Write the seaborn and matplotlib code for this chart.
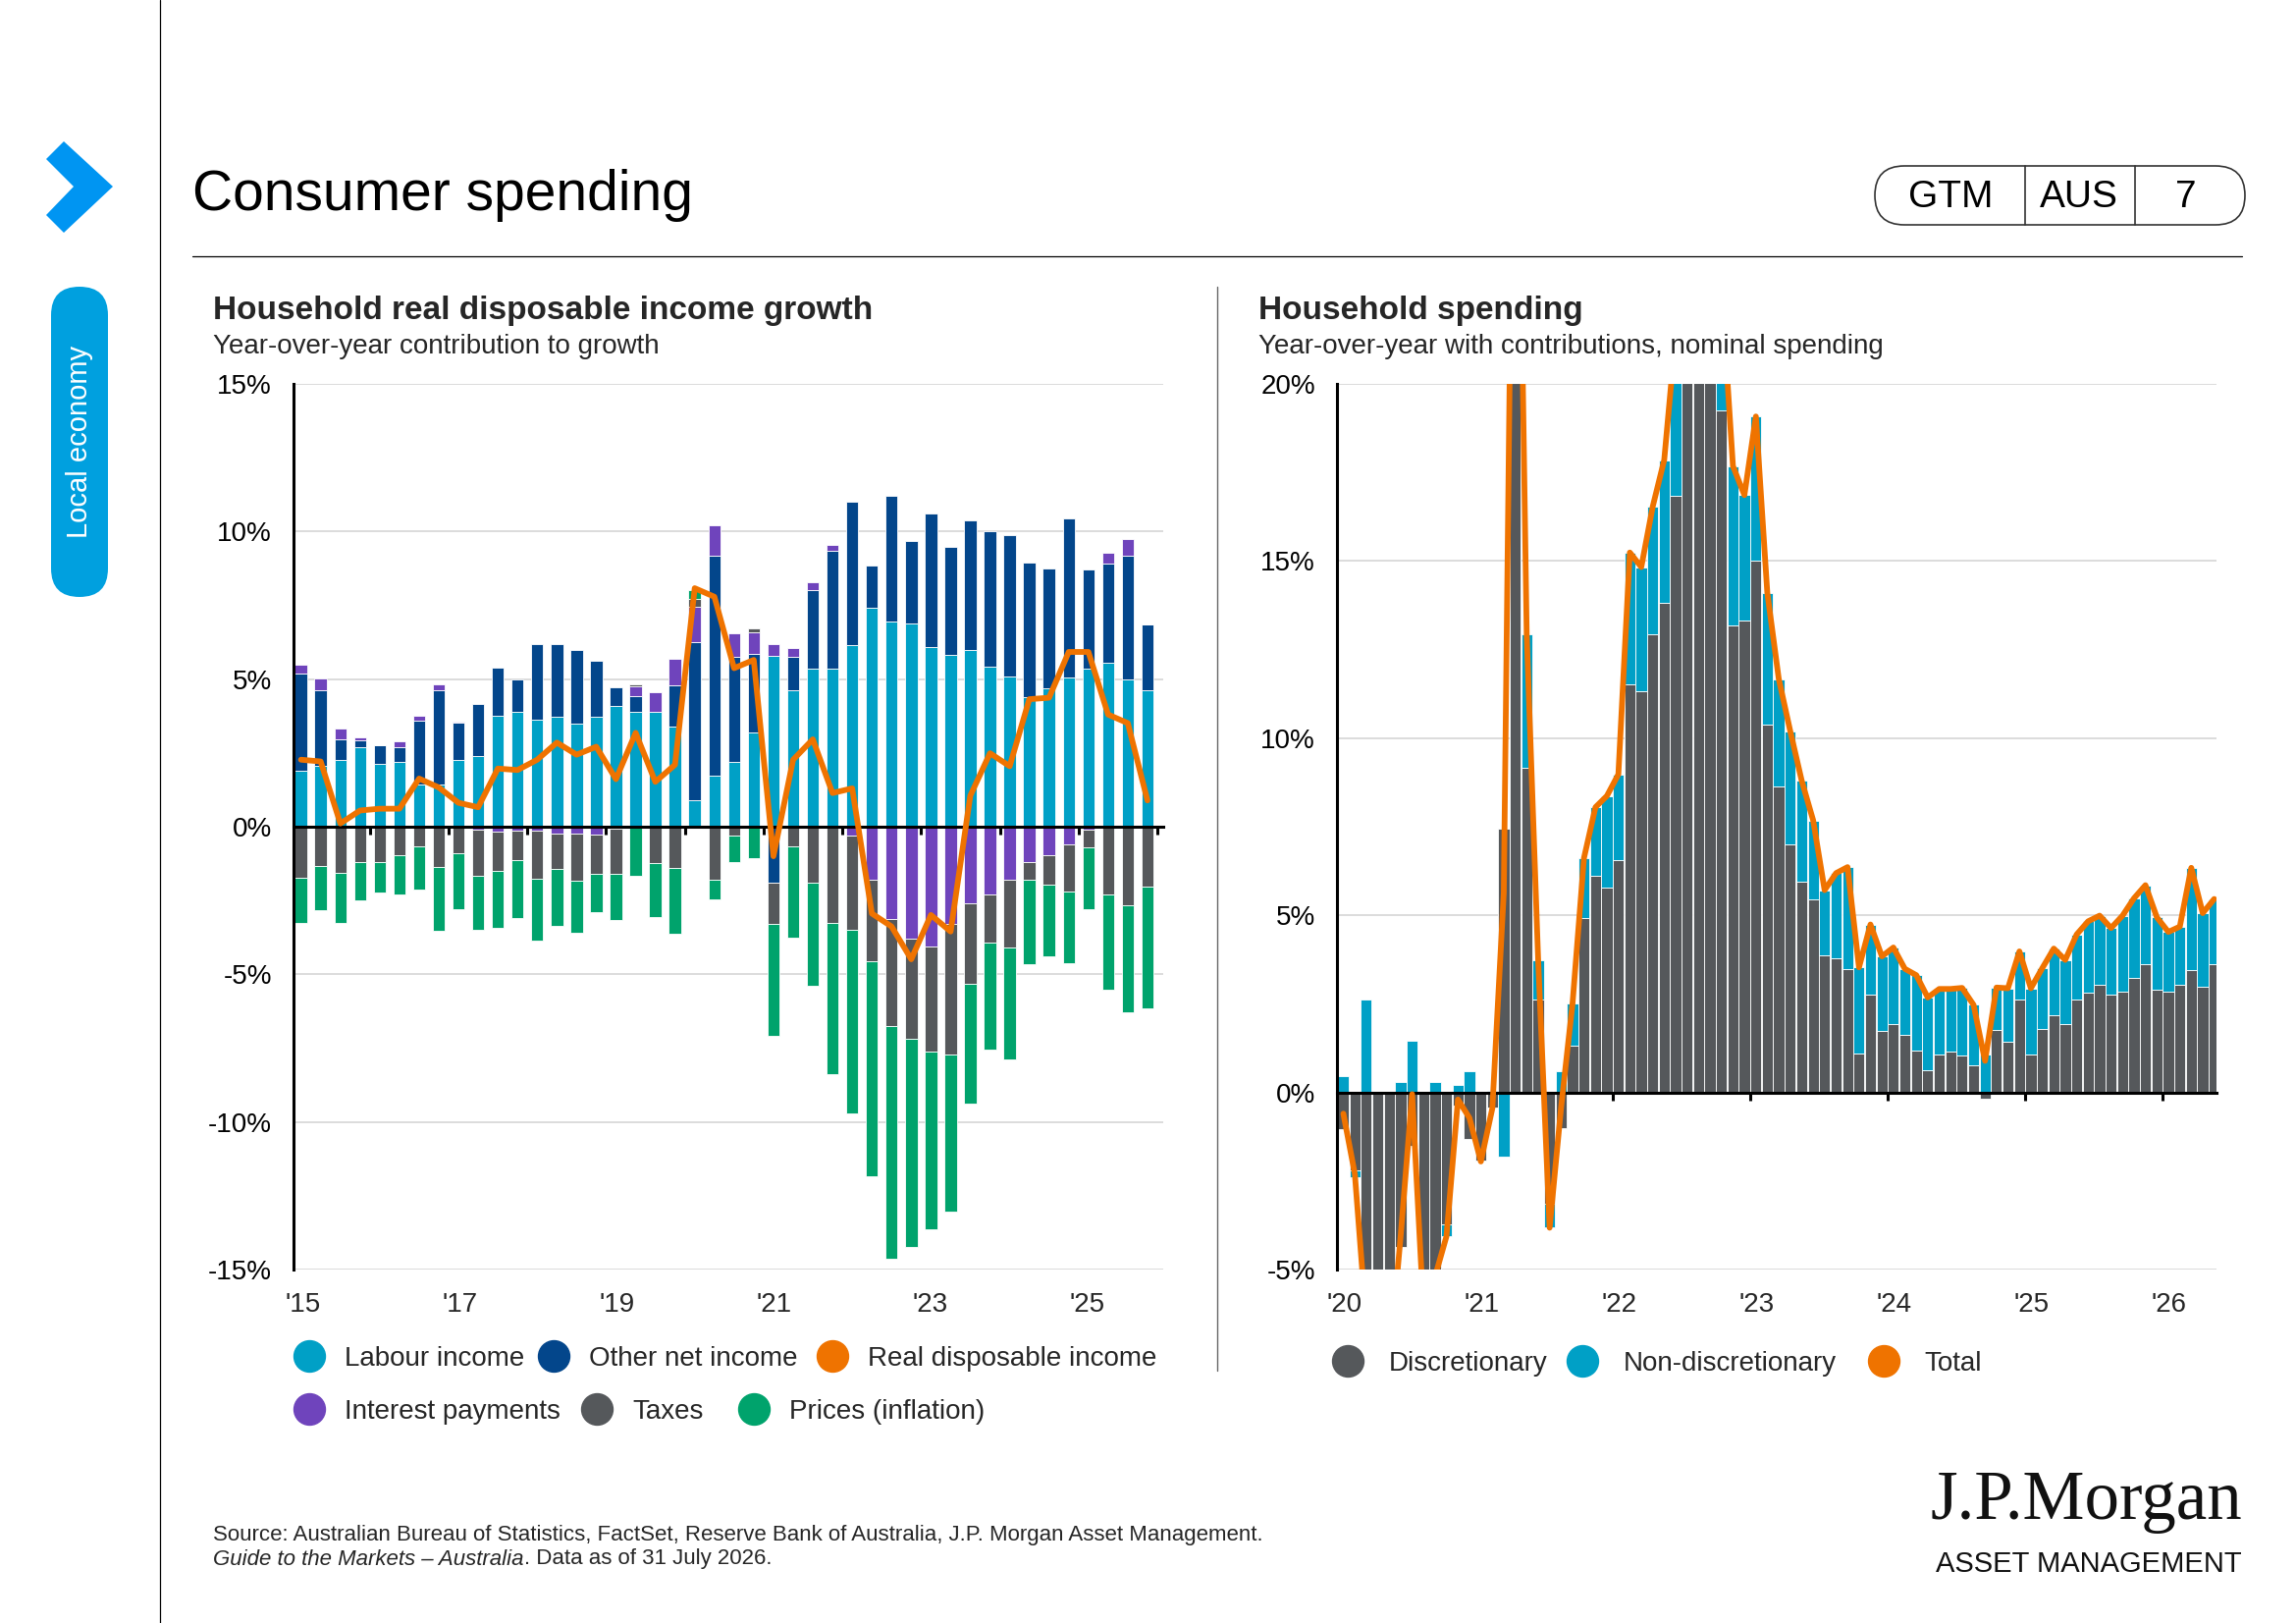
import numpy as np
import matplotlib.pyplot as plt
import matplotlib.transforms as mtransforms
import seaborn as sns
from matplotlib.lines import Line2D
from matplotlib.patches import FancyBboxPatch, Polygon

sns.set_theme(style="white")
plt.rcParams['font.family'] = ['Liberation Sans', 'DejaVu Sans']

# ---- left chart: household real disposable income (quarterly, % contribution)
year_labels_left = ["'15", "'17", "'19", "'21", "'23", "'25"]
labour = [1.88, 2.05, 2.25, 2.71, 2.13, 2.21, 1.44, 1.42, 2.25, 2.38, 3.77, 3.90,
          3.63, 3.71, 3.49, 3.71, 4.10, 3.90, 3.90, 3.38, 0.89, 1.74, 2.18, 3.18,
          5.79, 4.62, 5.37, 5.37, 6.15, 7.42, 6.95, 6.87, 6.09, 5.81, 6.00, 5.43,
          5.09, 4.40, 4.68, 5.07, 5.37, 5.54, 5.00, 4.63]
other_net = [3.32, 2.58, 0.72, 0.22, 0.64, 0.50, 2.16, 3.21, 1.26, 1.77, 1.62, 1.08,
             2.54, 2.48, 2.50, 1.92, 0.63, 0.53, 0.00, 1.40, 5.37, 7.44, 3.56, 2.66,
             -1.88, 1.14, 2.66, 3.99, 4.85, 1.42, 4.25, 2.80, 4.51, 3.66, 4.37, 4.57,
             4.78, 4.54, 4.07, 5.39, 3.35, 3.38, 4.19, 2.21]
interest = [0.30, 0.39, 0.37, 0.10, 0.00, 0.17, 0.17, 0.19, 0.06, -0.10, -0.17, -0.13,
            -0.13, -0.22, -0.23, -0.27, -0.08, 0.31, 0.66, 0.92, 1.18, 1.03, 0.82, 0.75,
            0.38, 0.28, 0.25, 0.19, -0.31, -1.80, -3.14, -3.80, -4.07, -3.30, -2.61, -2.31,
            -1.81, -1.20, -0.96, -0.60, -0.10, 0.35, 0.56, 0.00]
taxes = [-1.72, -1.33, -1.57, -1.20, -1.20, -0.96, -0.67, -1.36, -0.91, -1.56, -1.33, -1.00,
         -1.63, -1.22, -1.60, -1.34, -1.52, 0.08, -1.24, -1.41, 0.28, -1.81, -0.30, 0.13,
         -1.41, -0.67, -1.90, -3.27, -3.18, -2.77, -3.62, -3.38, -3.55, -4.43, -2.72, -1.63,
         -2.29, -0.61, -1.01, -1.60, -0.60, -2.29, -2.66, -2.03]
prices = [-1.53, -1.50, -1.68, -1.30, -1.03, -1.33, -1.46, -2.17, -1.88, -1.84, -1.93, -1.95,
          -2.09, -1.92, -1.75, -1.28, -1.56, -1.66, -1.82, -2.22, 0.28, -0.64, -0.90, -1.05,
          -3.81, -3.09, -3.48, -5.10, -6.21, -7.26, -7.86, -7.04, -6.01, -5.30, -4.04, -3.60,
          -3.79, -2.85, -2.42, -2.42, -2.09, -3.22, -3.62, -4.12]
real_disp_income = [2.27, 2.21, 0.11, 0.55, 0.61, 0.61, 1.63, 1.33, 0.81, 0.66, 1.97, 1.92,
                    2.27, 2.85, 2.44, 2.71, 1.61, 3.18, 1.52, 2.10, 8.08, 7.79, 5.37, 5.65,
                    -1.00, 2.27, 2.96, 1.14, 1.30, -2.94, -3.38, -4.49, -2.99, -3.55, 1.05, 2.49,
                    2.05, 4.32, 4.37, 5.92, 5.92, 3.80, 3.51, 0.89]

# ---- right chart: household spending (monthly, % y/y)
year_labels_right = ["'20", "'21", "'22", "'23", "'24", "'25", "'26"]
discretionary = [-1.03, -2.20, -9.10, -9.00, -7.70, -4.35, -1.50, -6.24, -5.50, -3.73, -0.38, -1.31,
                 -1.92, -0.44, 7.44, 30.50, 9.16, 2.63, -3.15, -1.02, 1.31, 4.93, 6.11, 5.78,
                 6.57, 11.53, 11.33, 12.94, 13.81, 16.83, 20.50, 21.50, 21.00, 19.26, 13.19, 13.32,
                 15.00, 10.39, 8.63, 7.01, 5.94, 5.45, 3.86, 3.79, 3.47, 1.11, 2.75, 1.73,
                 1.94, 1.62, 1.18, 0.64, 1.06, 1.15, 1.04, 0.76, -0.17, 1.75, 1.42, 2.63,
                 1.06, 1.78, 2.17, 1.94, 2.63, 2.81, 3.03, 2.75, 2.84, 3.23, 3.61, 2.89,
                 2.84, 3.03, 3.46, 2.98, 3.61]
non_discretionary = [0.46, -0.20, 2.63, 0.00, 0.00, 0.30, 1.45, 0.00, 0.30, -0.33, 0.20, 0.59,
                     0.00, 0.05, -1.80, 3.50, 3.76, 1.10, -0.67, 0.59, 1.20, 1.69, 1.94, 2.59,
                     2.41, 3.71, 3.50, 3.60, 4.04, 4.57, 4.00, 4.00, 4.00, 3.45, 4.49, 3.54,
                     4.08, 3.71, 3.04, 3.19, 2.86, 2.23, 1.85, 2.40, 2.89, 2.42, 1.99, 2.11,
                     2.15, 1.87, 2.13, 2.04, 1.86, 1.77, 1.91, 1.71, 1.06, 1.21, 1.52, 1.35,
                     1.88, 1.73, 1.89, 1.80, 1.83, 2.02, 1.96, 1.89, 2.15, 2.25, 2.24, 2.05,
                     1.69, 1.65, 2.88, 2.08, 1.85]
total_spending = [-0.60, -2.30, -6.50, -9.00, -7.70, -4.05, -0.05, -6.20, -5.20, -4.06, -0.20, -0.72,
                  -1.95, -0.45, 5.64, 34.00, 12.92, 3.73, -3.82, -0.43, 2.51, 6.62, 8.05, 8.37,
                  8.98, 15.24, 14.83, 16.54, 17.85, 21.40, 24.50, 25.50, 25.00, 22.70, 17.68, 16.86,
                  19.08, 14.10, 11.67, 10.20, 8.80, 7.68, 5.71, 6.19, 6.36, 3.53, 4.74, 3.84,
                  4.09, 3.49, 3.31, 2.68, 2.92, 2.92, 2.95, 2.47, 0.89, 2.96, 2.94, 3.98,
                  2.94, 3.51, 4.06, 3.74, 4.46, 4.83, 4.99, 4.64, 4.99, 5.48, 5.85, 4.94,
                  4.53, 4.68, 6.34, 5.06, 5.46]

TEAL = "#00a0c6"
NAVY = "#03468b"
PURPLE = "#6f44bc"
GREY = "#55585b"
GREEN = "#00a36c"
ORANGE = "#ef7300"
FS = 20


def stacked_bars(ax, series, colors, width):
    n = len(series[0])
    x = np.arange(n)
    pos_base = np.zeros(n)
    neg_base = np.zeros(n)
    for vals, c in zip(series, colors):
        v = np.array(vals, dtype=float)
        bottom = np.where(v >= 0, pos_base, neg_base)
        ax.bar(x, v, bottom=bottom, width=width, color=c, edgecolor="white",
               linewidth=0.6, zorder=2)
        pos_base = pos_base + np.where(v > 0, v, 0)
        neg_base = neg_base + np.where(v < 0, v, 0)


def style_axes(ax, ylim, yticks, xlim, tick_pos, lab_pos, labels, pad):
    ax.set_xlim(*xlim)
    ax.set_ylim(*ylim)
    ax.set_yticks(yticks)
    ax.set_yticklabels([f"{t}%" for t in yticks], fontsize=FS)
    ax.tick_params(axis="y", length=0, pad=pad, colors="black")
    for s in ["top", "right"]:
        ax.spines[s].set_visible(False)
    ax.spines["left"].set_linewidth(2.2)
    ax.spines["left"].set_color("black")
    ax.spines["bottom"].set_position(("data", 0))
    ax.spines["bottom"].set_linewidth(2.2)
    ax.spines["bottom"].set_color("black")
    ax.set_xticks(tick_pos)
    ax.tick_params(axis="x", direction="out", length=6, width=2.2, color="black",
                   labelbottom=False, bottom=True)
    ax.grid(axis="y", color="#d9d9d9", linewidth=1.3)
    ax.grid(axis="x", visible=False)
    ax.set_axisbelow(True)
    trans = mtransforms.blended_transform_factory(ax.transData, ax.transAxes)
    for p, l in zip(lab_pos, labels):
        ax.text(p, -0.0395, l, transform=trans, ha="center", va="center", fontsize=FS)


fig = plt.figure(figsize=(23.39, 16.53), dpi=100)

# left chart
axl = fig.add_axes([299 / 2339, 1 - 1293 / 1653, (1185 - 299) / 2339, 902 / 1653])
stacked_bars(axl, [labour, other_net, interest, taxes, prices],
             [TEAL, NAVY, PURPLE, GREY, GREEN], 0.62)
xl = np.arange(len(real_disp_income))
sns.lineplot(x=xl, y=real_disp_income, ax=axl, color=ORANGE, linewidth=4.2, zorder=5)
axl.lines[-1].set_solid_joinstyle("round")
style_axes(axl, (-15, 15), [15, 10, 5, 0, -5, -10, -15], (-0.38, 43.8),
           [3.5 + 4 * k for k in range(11)], [0.1 + 7.97 * k for k in range(6)],
           year_labels_left, 16)

# right chart
axr = fig.add_axes([1362 / 2339, 1 - 1293 / 1653, (2258 - 1362) / 2339, 902 / 1653])
stacked_bars(axr, [discretionary, non_discretionary], [GREY, TEAL], 0.96)
xr = np.arange(len(total_spending))
sns.lineplot(x=xr, y=total_spending, ax=axr, color=ORANGE, linewidth=4.2, zorder=5)
axr.lines[-1].set_solid_joinstyle("round")
style_axes(axr, (-5, 20), [20, 15, 10, 5, 0, -5], (-0.56, 76.2),
           [11.5 + 12 * k for k in range(6)], [0.05 + 12 * k for k in range(7)],
           year_labels_right, 16)


def dot(c):
    return Line2D([], [], marker="o", linestyle="", markersize=23,
                  markerfacecolor=c, markeredgecolor=c)


def legend_entry(x_dot, y, color, label, textpad):
    # one legend item, placed by the centre of its dot (pixel coords)
    fig.legend([dot(color)], [label], loc="center left", frameon=False, fontsize=FS,
               handlelength=1.0, handletextpad=textpad, borderpad=0, borderaxespad=0,
               bbox_to_anchor=((x_dot - 13.9) / 2339, 1 - y / 1653),
               bbox_transform=fig.transFigure)


for xd, yd, c, lab in [(315, 1384, TEAL, "Labour income"),
                       (564, 1384, NAVY, "Other net income"),
                       (848, 1384, ORANGE, "Real disposable income"),
                       (315, 1438, PURPLE, "Interest payments"),
                       (608, 1438, GREY, "Taxes"),
                       (768, 1438, GREEN, "Prices (inflation)")]:
    legend_entry(xd, yd, c, lab, 0.8)

for xd, c, lab in [(1373, GREY, "Discretionary"),
                   (1612, TEAL, "Non-discretionary"),
                   (1919, ORANGE, "Total")]:
    legend_entry(xd, 1389, c, lab, 1.0)

# page decorations, drawn in pixel coordinates
ov = fig.add_axes([0, 0, 1, 1], zorder=-1)
ov.set_xlim(0, 2339)
ov.set_ylim(1653, 0)
ov.axis("off")

ov.plot([163, 163], [0, 1653], color="black", linewidth=0.9)
ov.add_patch(Polygon([(47, 162), (65, 144), (115, 190), (65, 237), (47, 219), (75, 190)],
                     closed=True, facecolor="#0095f2", edgecolor="none"))
ov.add_patch(FancyBboxPatch((52, 292), 58, 316, boxstyle="round,pad=0,rounding_size=29",
                            facecolor="#00a0df", edgecolor="none"))
ov.text(81, 450, "Local economy", rotation=90, color="white", fontsize=21,
        ha="center", va="center")

ov.text(196, 199, "Consumer spending", fontsize=41, ha="left", va="center", color="black")
ov.plot([196, 2284], [261, 261], color="black", linewidth=0.9)

ov.add_patch(FancyBboxPatch((1910, 169), 377, 60, boxstyle="round,pad=0,rounding_size=30",
                            facecolor="none", edgecolor="#333333", linewidth=1.2))
ov.plot([2063, 2063], [169, 229], color="#333333", linewidth=1.2)
ov.plot([2175, 2175], [169, 229], color="#333333", linewidth=1.2)
for tx, t in [(1987, "GTM"), (2118, "AUS"), (2227, "7")]:
    ov.text(tx, 201, t, fontsize=28, ha="center", va="center", color="black")

ov.plot([1240, 1240], [292, 1396], color="#666666", linewidth=1.0)

ov.text(217, 317, "Household real disposable income growth", fontsize=24,
        fontweight="bold", ha="left", va="center")
ov.text(217, 353, "Year-over-year contribution to growth", fontsize=FS,
        ha="left", va="center")
ov.text(1282, 317, "Household spending", fontsize=24, fontweight="bold",
        ha="left", va="center")
ov.text(1282, 353, "Year-over-year with contributions, nominal spending", fontsize=FS,
        ha="left", va="center")

ov.text(217, 1564, "Source: Australian Bureau of Statistics, FactSet, Reserve Bank of Australia, "
        "J.P. Morgan Asset Management.", fontsize=16, ha="left", va="center")
t_it = ov.text(217, 1588, "Guide to the Markets \u2013 Australia", fontsize=16,
               style="italic", ha="left", va="center")
renderer = fig.canvas.get_renderer()
x_end = t_it.get_window_extent(renderer=renderer).x1
ov.text(x_end, 1588, ". Data as of 31 July 2026.", fontsize=16, ha="left", va="center")

ov.text(2284, 1529, "J.P.Morgan", fontsize=51, family=["Liberation Serif", "DejaVu Serif"],
        ha="right", va="center", color="#111111")
ov.text(2284, 1593, "ASSET MANAGEMENT", fontsize=21, ha="right", va="center",
        color="#111111")

fig.savefig("out.png", dpi=100)
